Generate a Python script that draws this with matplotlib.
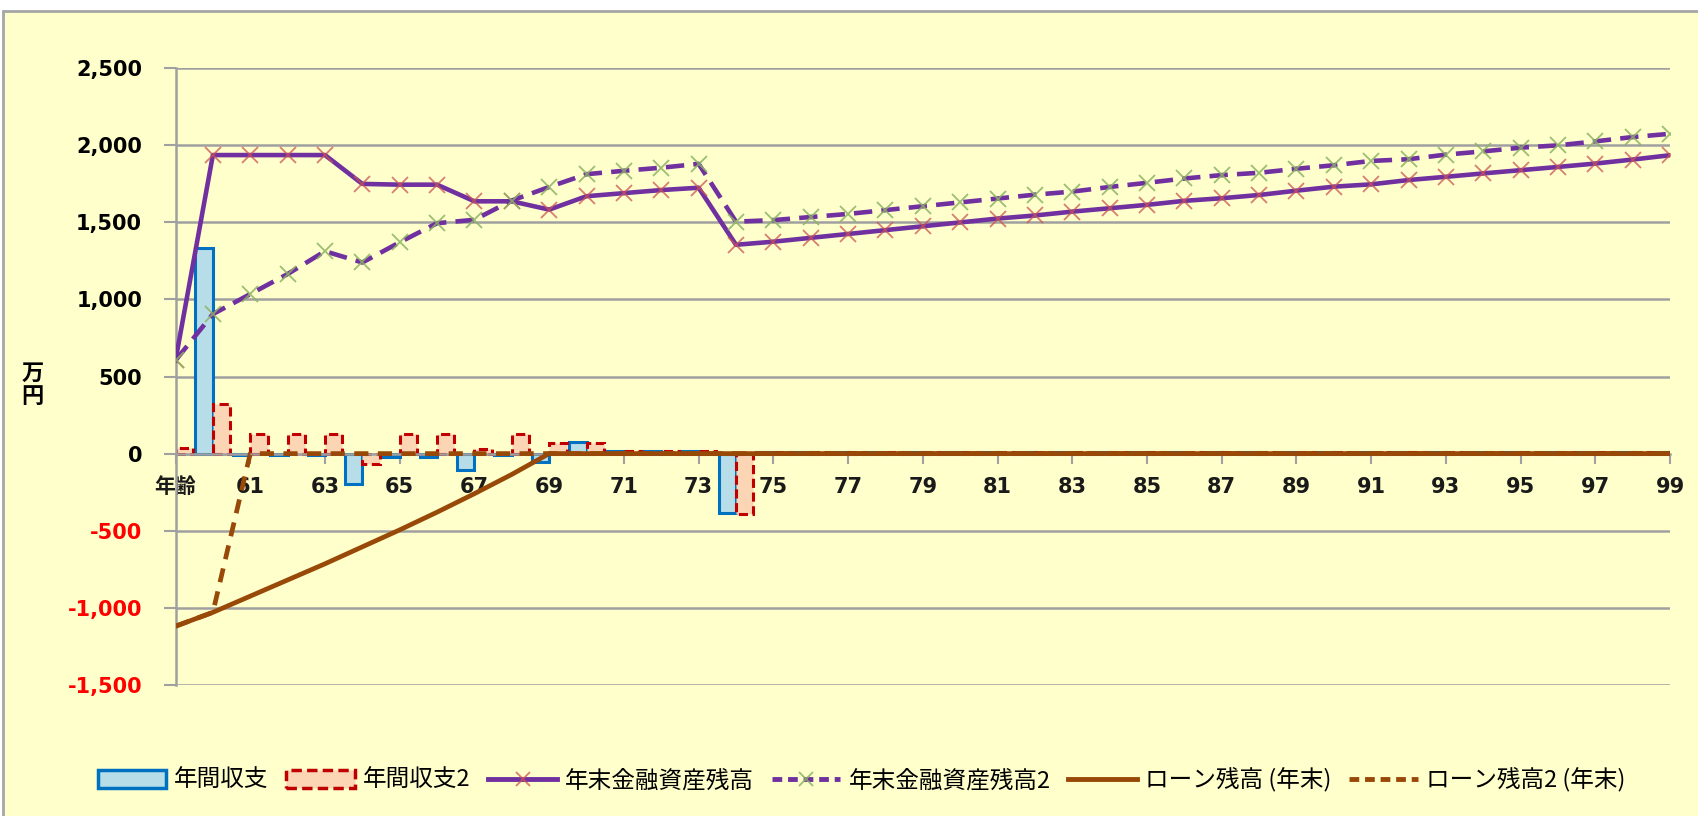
import numpy as np
import matplotlib
matplotlib.use("Agg")
import matplotlib.pyplot as plt
from matplotlib.patches import Patch, Rectangle
from matplotlib.lines import Line2D
from matplotlib.ticker import FixedLocator, FuncFormatter

plt.rcParams['font.family'] = ['DejaVu Sans', 'Noto Sans CJK JP']

# ---------------- data ----------------
ages = list(range(59, 100))
first_label = "年齢"

annual = [0, 1335, -8, -8, -8, -195, -25, -20, -105, -8, -55, 75, 15, 15, 15, -385] + [10] * 25
annual2 = [35, 322, 125, 125, 125, -68, 125, 125, 32, 125, 70, 70, 20, 20, 20, -390] + [10] * 25

assets = [605, 1937, 1937, 1937, 1937, 1750, 1745, 1745, 1637, 1637, 1583, 1670, 1690, 1710, 1725,
          1355, 1375, 1400, 1425, 1450, 1475, 1500, 1525, 1545, 1570, 1592, 1614, 1640, 1657,
          1678, 1706, 1732, 1747, 1775, 1796, 1818, 1839, 1860, 1882, 1908, 1936]
assets2 = [605, 905, 1035, 1165, 1313, 1240, 1371, 1495, 1517, 1642, 1730, 1813, 1835, 1855, 1880,
           1505, 1515, 1535, 1555, 1580, 1605, 1630, 1655, 1680, 1700, 1730, 1757, 1785, 1807,
           1822, 1848, 1871, 1899, 1910, 1940, 1961, 1985, 2000, 2026, 2054, 2075]

loan = [-1120, -1030, -925, -820, -715, -605, -495, -380, -260, -135, 0] + [0] * 30
loan2 = [-1120, -1030, 0] + [0] * 38

series_names = ["年間収支", "年間収支2", "年末金融資産残高", "年末金融資産残高2",
                "ローン残高 (年末)", "ローン残高2 (年末)"]
yticks = [-1500, -1000, -500, 0, 500, 1000, 1500, 2000, 2500]

# ---------------- style ----------------
BG = '#FFFFCC'
GRID = '#A0A0A0'
PURPLE = '#7030A0'
BROWN = '#984807'
BLUE_F, BLUE_E = '#B7DEE8', '#0070C0'
RED_F, RED_E = '#FCD5B5', '#C00000'
MK_RED = (0.80, 0.33, 0.32, 0.75)
MK_GRN = (0.55, 0.70, 0.38, 0.85)

fig = plt.figure(figsize=(16.99, 8.16), dpi=100, facecolor='white')
bg = Rectangle((3 / 1699, -0.05), 1.1, 1.05 - 11 / 816,
               transform=fig.transFigure, facecolor=BG,
               edgecolor='#A6A6A6', lw=2.0, zorder=-10)
fig.patches.append(bg)

ax = fig.add_axes([0.1033, 0.1608, 0.983 - 0.1033, 0.9163 - 0.1608])
ax.set_zorder(1)
ax.patch.set_visible(False)

# spines first (set_position resets tick styling)
ax.spines['bottom'].set_position(('data', 0))
ax.spines['bottom'].set_color(GRID)
ax.spines['bottom'].set_linewidth(1.8)
ax.spines['left'].set_color(GRID)
ax.spines['left'].set_linewidth(1.8)
ax.spines['top'].set_visible(False)
ax.spines['right'].set_visible(False)

x = np.array(ages, dtype=float)
w = 0.465
ax.bar(x - w / 2, annual, w, facecolor=BLUE_F, edgecolor=BLUE_E, lw=2.2, zorder=2)
ax.bar(x + w / 2, annual2, w, facecolor=RED_F, edgecolor=RED_E, lw=2.2, linestyle=(0, (3, 1.5)), zorder=2)

ax.plot(x, loan, color=BROWN, lw=3.4, zorder=4, solid_capstyle='butt')
ax.plot(x, loan2, color=BROWN, lw=3.4, dashes=(3, 2), zorder=4)

ax.plot(x, assets, color=PURPLE, lw=3.3, marker='x', ms=11, mec=MK_RED, mew=1.3, zorder=5)
ax.plot(x, assets2, color=PURPLE, lw=3.3, dashes=(4, 2), marker='x', ms=11, mec=MK_GRN, mew=1.3, zorder=5)

ax.set_xlim(59, 99)
ax.set_ylim(-1500, 2500)

# y axis
ax.yaxis.set_major_locator(FixedLocator(yticks))
ax.yaxis.set_major_formatter(FuncFormatter(lambda v, p: f"{v:,.0f}"))
ax.tick_params(axis='y', length=9, width=1.5, color=GRID, pad=15, labelsize=15)
for lab, v in zip(ax.get_yticklabels(), yticks):
    lab.set_fontweight('bold')
    lab.set_color('#FF0000' if v < 0 else '#000000')
ax.yaxis.grid(True, color=GRID, lw=1.8)
ax.set_axisbelow(True)

# x axis at zero
xt = [a for a in ages if (a - 59) % 2 == 0]
ax.xaxis.set_major_locator(FixedLocator(xt))
ax.tick_params(axis='x', length=7, width=1.5, color=GRID, pad=10, direction='out', labelsize=15)
ax.set_xticklabels([first_label if a == 59 else str(a) for a in xt],
                   fontsize=15, fontweight='bold', color='#1A1A1A')

fig.text(0.019, 0.528, "万\n円", ha='center', va='center', fontsize=16, fontweight='bold',
         family=['Noto Sans CJK JP'], linespacing=1.0)

handles = [
    Patch(facecolor=BLUE_F, edgecolor=BLUE_E, lw=2.5),
    Patch(facecolor=RED_F, edgecolor=RED_E, lw=2.5, linestyle=(0, (3, 1.5))),
    Line2D([], [], color=PURPLE, lw=3.5, marker='x', ms=10, mec=MK_RED, mew=1.3),
    Line2D([], [], color=PURPLE, lw=3.5, dashes=(2, 1.2), marker='x', ms=10, mec=MK_GRN, mew=1.3),
    Line2D([], [], color=BROWN, lw=3.5),
    Line2D([], [], color=BROWN, lw=3.5, dashes=(2, 1.2)),
]
fig.legend(handles, series_names, loc='center', bbox_to_anchor=(0.507, 0.044), ncol=6,
           frameon=False, handlelength=2.9, handleheight=0.8, columnspacing=0.75,
           handletextpad=0.35, numpoints=1,
           prop={'family': ['Noto Sans CJK JP'], 'size': 17})

fig.savefig("out.png", dpi=100, facecolor='white')
